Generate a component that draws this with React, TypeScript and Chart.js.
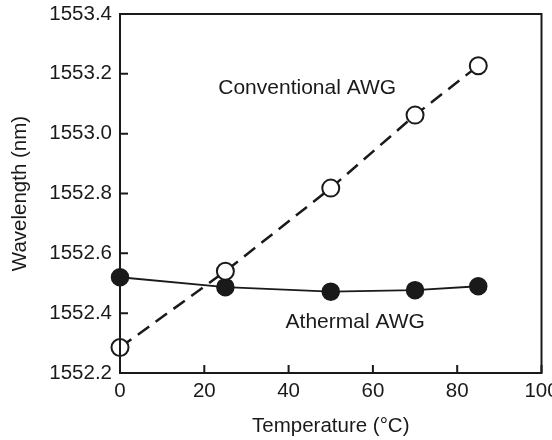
import React, { useEffect, useRef } from "react";
import { Chart, registerables } from "chart.js";
Chart.register(...registerables);

const temperatures = [0, 25, 50, 70, 85];
const conventional = [1552.285, 1552.54, 1552.818, 1553.062, 1553.227];
const athermal = [1552.52, 1552.487, 1552.472, 1552.477, 1552.49];
const xTicks = [0, 20, 40, 60, 80, 100];
const yTicks = [1552.2, 1552.4, 1552.6, 1552.8, 1553.0, 1553.2, 1553.4];
const labels = [
  { text: "Conventional AWG", x: 44.4, y: 1553.153 },
  { text: "Athermal AWG", x: 55.8, y: 1552.37 },
];

const FONT = "'Liberation Sans', Arial, Helvetica, sans-serif";
const INK = "#1a1a1a";

const decor = {
  id: "decor",
  afterDatasetsDraw(chart: any) {
    const { ctx, chartArea, scales } = chart;
    const xs = scales.x, ys = scales.y;
    ctx.save();
    ctx.strokeStyle = INK;
    ctx.lineWidth = 2;
    ctx.strokeRect(chartArea.left, chartArea.top, chartArea.right - chartArea.left, chartArea.bottom - chartArea.top);
    const tl = 8;
    ctx.beginPath();
    for (const v of xTicks) {
      const px = xs.getPixelForValue(v);
      ctx.moveTo(px, chartArea.bottom);
      ctx.lineTo(px, chartArea.bottom - tl);
    }
    for (const v of yTicks) {
      const py = ys.getPixelForValue(v);
      ctx.moveTo(chartArea.left, py);
      ctx.lineTo(chartArea.left + tl, py);
    }
    ctx.stroke();
    ctx.fillStyle = INK;
    ctx.font = `21px ${FONT}`;
    ctx.textAlign = "center";
    ctx.textBaseline = "middle";
    for (const l of labels) {
      ctx.fillText(l.text, xs.getPixelForValue(l.x), ys.getPixelForValue(l.y));
    }
    ctx.restore();
  },
};

export default function App() {
  const ref = useRef<HTMLCanvasElement>(null);
  useEffect(() => {
    const chart = new Chart(ref.current!, {
      type: "line",
      data: {
        datasets: [
          {
            label: "Conventional AWG",
            data: temperatures.map((t, i) => ({ x: t, y: conventional[i] })),
            borderColor: INK,
            borderWidth: 2.5,
            borderDash: [14, 8],
            pointRadius: 8.5,
            pointBorderWidth: 2,
            pointBackgroundColor: "#ffffff",
            pointBorderColor: INK,
            tension: 0,
            clip: false,
          },
          {
            label: "Athermal AWG",
            data: temperatures.map((t, i) => ({ x: t, y: athermal[i] })),
            borderColor: INK,
            borderWidth: 1.8,
            pointRadius: 8.5,
            pointBorderWidth: 1.5,
            pointBackgroundColor: INK,
            pointBorderColor: INK,
            tension: 0,
            clip: false,
          },
        ],
      },
      options: {
        animation: false,
        responsive: true,
        maintainAspectRatio: false,
        layout: { padding: { left: 0, top: 14, right: 10, bottom: 0 } },
        plugins: { legend: { display: false }, tooltip: { enabled: false } },
        scales: {
          x: {
            type: "linear",
            min: 0,
            max: 100,
            afterBuildTicks: (s: any) => { s.ticks = xTicks.map((v) => ({ value: v })); },
            afterFit: (s: any) => { s.height = 67; s.paddingLeft = 0; s.paddingRight = 0; },
            grid: { display: false, drawTicks: false },
            border: { display: false },
            ticks: { color: INK, font: { family: FONT, size: 20.5 }, padding: 6, maxRotation: 0 },
            title: { display: true, text: "Temperature (°C)", color: INK, font: { family: FONT, size: 20.5 }, padding: { top: 0, bottom: 1 } },
          },
          y: {
            type: "linear",
            min: 1552.2,
            max: 1553.4,
            afterBuildTicks: (s: any) => { s.ticks = yTicks.map((v) => ({ value: v })); },
            afterFit: (s: any) => { s.width = 120; s.paddingTop = 0; s.paddingBottom = 0; },
            grid: { display: false, drawTicks: false },
            border: { display: false },
            ticks: { color: INK, font: { family: FONT, size: 20.5 }, padding: 8, callback: (v: any) => Number(v).toFixed(1) },
            title: { display: true, text: "Wavelength (nm)", color: INK, font: { family: FONT, size: 20.5 }, padding: { top: 8, bottom: 0 } },
          },
        },
      },
      plugins: [decor],
    });
    return () => chart.destroy();
  }, []);
  return (
    <div style={{ position: "fixed", left: 0, top: 0, width: 552, height: 440, background: "#fff" }}>
      <canvas ref={ref} />
    </div>
  );
}
